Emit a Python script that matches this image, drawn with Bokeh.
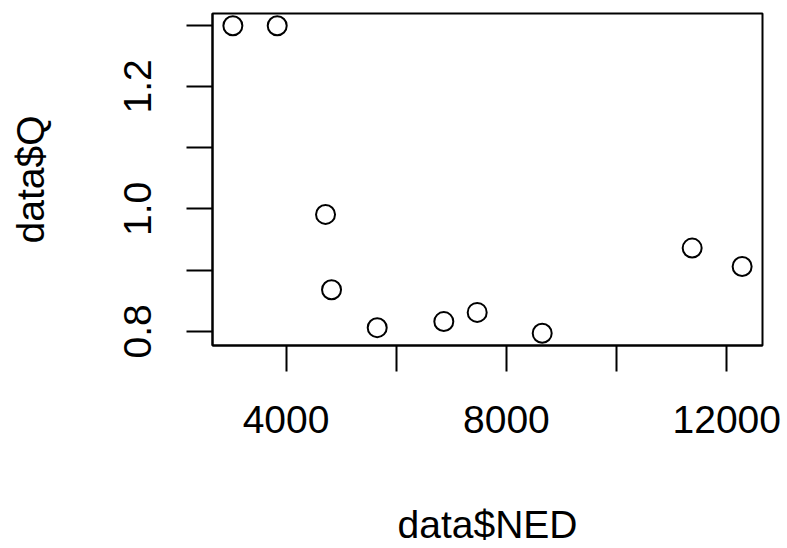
import math
from bokeh.plotting import figure
from bokeh.models import Range1d, FixedTicker
from bokeh.embed import file_html
from bokeh.resources import INLINE

# Data
ned = [3035, 3840, 4717, 4826, 5655, 6864, 7470, 8650, 11372, 12279]
q = [1.299, 1.299, 0.991, 0.868, 0.806, 0.816, 0.831, 0.797, 0.936, 0.906]

x_ticks = [4000, 6000, 8000, 10000, 12000]
x_labels = {4000: "4000", 6000: "", 8000: "8000", 10000: "", 12000: "12000"}
y_ticks = [0.8, 0.9, 1.0, 1.1, 1.2, 1.3]
y_labels = {0.8: "0.8", 0.9: "", 1.0: "1.0", 1.1: "", 1.2: "1.2", 1.3: ""}

def r_range(v):
    lo, hi = min(v), max(v)
    d = (hi - lo) * 0.04
    return lo - d, hi + d

x0, x1 = r_range(ned)
y0, y1 = r_range(q)

FONT = "Liberation Sans"
FS = "39px"

p = figure(width=787, height=548, output_backend="svg", toolbar_location=None,
           x_range=Range1d(x0, x1), y_range=Range1d(y0, y1),
           min_border_left=212, min_border_right=25, min_border_top=13,
           min_border_bottom=203)
p.grid.visible = False
p.background_fill_color = "white"
p.border_fill_color = "white"
p.outline_line_color = "black"
p.outline_line_width = 2

p.scatter(ned, q, marker="circle", size=19, fill_color=None,
          line_color="black", line_width=2)

xa = p.xaxis[0]
xa.ticker = FixedTicker(ticks=x_ticks)
xa.major_label_overrides = x_labels
ya = p.yaxis[0]
ya.ticker = FixedTicker(ticks=y_ticks)
ya.major_label_overrides = y_labels
ya.major_label_orientation = "parallel"

for ax in (xa, ya):
    ax.axis_line_color = "black"
    ax.axis_line_width = 2
    ax.major_tick_line_color = "black"
    ax.major_tick_line_width = 2
    ax.major_tick_out = 26
    ax.major_tick_in = 0
    ax.minor_tick_line_color = None
    ax.major_label_text_font = FONT
    ax.major_label_text_font_size = FS
    ax.major_label_text_color = "black"
    ax.axis_label_text_font = FONT
    ax.axis_label_text_font_size = FS
    ax.axis_label_text_font_style = "normal"
    ax.axis_label_text_color = "black"

xa.axis_label = "data$NED"
ya.axis_label = "data$Q"
xa.major_label_standoff = 34
xa.axis_label_standoff = 67
ya.major_label_standoff = 35
ya.axis_label_standoff = 70

open("out.html", "w").write(file_html(p, INLINE))
